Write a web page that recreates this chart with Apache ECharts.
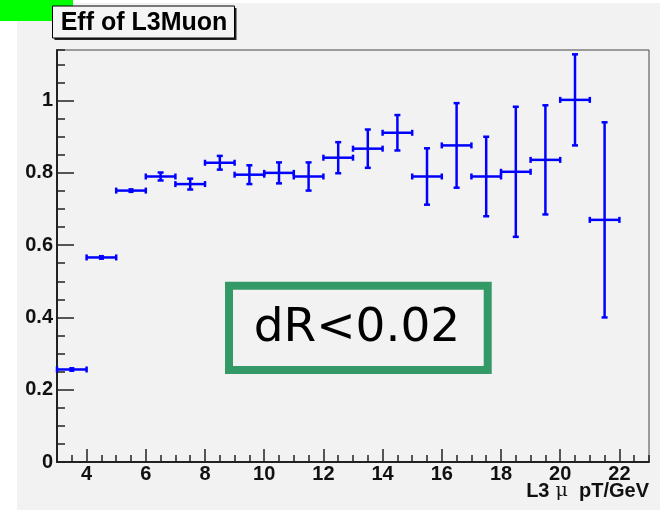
<!DOCTYPE html>
<html>
<head>
<meta charset="utf-8">
<title>Eff of L3Muon</title>
<script src="https://cdn.jsdelivr.net/npm/echarts@6/dist/echarts.min.js"></script>
<style>
    html, body { margin: 0; padding: 0; background: #ffffff; }
    #main { width: 660px; height: 510px; }
</style>
</head>
<body>
<div id="main"></div>
<script>
// bin centres (L3 mu pT, GeV) and half bin widths
var bin_center = [3.5, 4.5, 5.5, 6.5, 7.5, 8.5, 9.5, 10.5, 11.5, 12.5, 13.5, 14.5, 15.5, 16.5, 17.5, 18.5, 19.5, 20.5, 21.5];
var bin_half = [0.5, 0.5, 0.5, 0.5, 0.5, 0.5, 0.5, 0.5, 0.5, 0.5, 0.5, 0.5, 0.5, 0.5, 0.5, 0.5, 0.5, 0.5, 0.5];

// efficiency and its error
var eff_value = [0.256, 0.566, 0.751, 0.790, 0.769, 0.828, 0.795, 0.800, 0.790, 0.842, 0.867, 0.911, 0.790, 0.876, 0.790, 0.803, 0.836, 1.002, 0.670];
var eff_error = [0.003, 0.006, 0.006, 0.011, 0.015, 0.019, 0.026, 0.029, 0.039, 0.043, 0.053, 0.049, 0.078, 0.117, 0.110, 0.180, 0.151, 0.126, 0.270];

// tick labels
var x_major_ticks = [4, 6, 8, 10, 12, 14, 16, 18, 20, 22];
var y_major_ticks = [0, 0.2, 0.4, 0.6, 0.8, 1];

var Page = {

    chart: null,

    bold_font: 'Liberation Sans',
    axis_color: '#222222',
    bar_color: '#0000ff',

    build_data: function () {
        var rows = [];
        for (var i = 0; i < bin_center.length; i++) {
            rows.push([bin_center[i], eff_value[i], bin_half[i], eff_error[i]]);
        }
        return rows;
    },

    /* 画误差棒: 横向为 bin 宽, 纵向为误差 */
    render_errbar: function (params, api) {
        var x = api.value(0), y = api.value(1), ex = api.value(2), ey = api.value(3);
        var c = api.coord([x, y]);
        var l = api.coord([x - ex, y]);
        var r = api.coord([x + ex, y]);
        var t = api.coord([x, y + ey]);
        var b = api.coord([x, y - ey]);
        var cap = 3;
        var st = { stroke: Page.bar_color, lineWidth: 2.5 };
        var kids = [];
        function seg(x1, y1, x2, y2) {
            kids.push({ type: 'line', shape: { x1: x1, y1: y1, x2: x2, y2: y2 }, style: st });
        }
        seg(l[0], c[1], r[0], c[1]);
        seg(l[0], c[1] - cap, l[0], c[1] + cap);
        seg(r[0], c[1] - cap, r[0], c[1] + cap);
        if (b[1] - c[1] < 3) {
            // error smaller than the marker: only the marker shows
            kids.push({ type: 'rect', shape: { x: c[0] - 2.5, y: c[1] - 2.5, width: 5, height: 5 }, style: { fill: Page.bar_color } });
        } else {
            seg(c[0], t[1], c[0], b[1]);
            seg(c[0] - cap, t[1], c[0] + cap, t[1]);
            seg(c[0] - cap, b[1], c[0] + cap, b[1]);
        }
        return { type: 'group', children: kids };
    },

    init: function () {
        var that = this;
        this.chart = echarts.init(document.getElementById('main'), null, { renderer: 'canvas' });

        var label_style = {
            fontFamily: this.bold_font,
            fontWeight: 'bold',
            fontSize: 20,
            color: '#111111'
        };

        var option = {
            backgroundColor: '#ffffff',
            animation: false,
            grid: {
                left: 57, top: 50, right: 11, bottom: 48,
                show: true,
                backgroundColor: '#f2f2f2',
                borderColor: '#444444',
                borderWidth: 1
            },
            xAxis: [{
                type: 'value',
                min: 3, max: 23,
                position: 'bottom',
                axisLine: { show: true, onZero: false, lineStyle: { color: this.axis_color, width: 2 } },
                axisTick: { show: true, inside: true, length: 13, customValues: x_major_ticks, lineStyle: { color: this.axis_color, width: 1.5 } },
                axisLabel: Object.assign({ customValues: x_major_ticks, margin: 2 }, label_style),
                splitLine: { show: false }
            }, {
                type: 'value',
                min: 3, max: 23, interval: 0.5,
                position: 'bottom',
                axisLine: { show: false },
                axisTick: { show: true, inside: true, length: 7, lineStyle: { color: this.axis_color, width: 1.5 } },
                axisLabel: { show: false },
                splitLine: { show: false }
            }],
            yAxis: [{
                type: 'value',
                min: 0, max: 1.14,
                position: 'left',
                axisLine: { show: true, onZero: false, lineStyle: { color: this.axis_color, width: 2 } },
                axisTick: { show: true, inside: true, length: 17, customValues: y_major_ticks, lineStyle: { color: this.axis_color, width: 1.5 } },
                axisLabel: Object.assign({ customValues: y_major_ticks, margin: 4 }, label_style),
                splitLine: { show: false }
            }, {
                type: 'value',
                min: 0, max: 1.14, interval: 0.05,
                position: 'left',
                axisLine: { show: false },
                axisTick: { show: true, inside: true, length: 8, lineStyle: { color: this.axis_color, width: 1.5 } },
                axisLabel: { show: false },
                splitLine: { show: false }
            }],
            graphic: [
                // canvas
                { type: 'rect', z: -10, shape: { x: 17, y: 3, width: 643, height: 507 }, style: { fill: '#f2f2f2' } },
                { type: 'rect', z: 50, shape: { x: 0, y: 0, width: 73, height: 21 }, style: { fill: '#00ff00' } },
                // title box with shadow
                { type: 'rect', z: 50, shape: { x: 54.5, y: 8, width: 182, height: 32 }, style: { fill: '#222222' } },
                { type: 'rect', z: 51, shape: { x: 52.5, y: 6, width: 182, height: 32 }, style: { fill: '#f4f4f4', stroke: '#000000', lineWidth: 1 } },
                {
                    type: 'text', z: 52, x: 144, y: 23,
                    style: { text: 'Eff of L3Muon', fontFamily: this.bold_font, fontWeight: 'bold', fontSize: 25, fill: '#000000', align: 'center', verticalAlign: 'middle' }
                },
                // axis title
                {
                    type: 'text', z: 52, x: 649, y: 491,
                    style: {
                        text: '{b|L3}{m| μ}{b|  pT/GeV}',
                        align: 'right', verticalAlign: 'middle',
                        rich: {
                            b: { fontFamily: this.bold_font, fontWeight: 'bold', fontSize: 20, fill: '#111111' },
                            m: { fontFamily: 'DejaVu Serif', fontSize: 19, fill: '#111111' }
                        }
                    }
                },
                // dR box
                { type: 'rect', z: 52, shape: { x: 229, y: 285.7, width: 258.7, height: 84.3 }, style: { fill: 'none', stroke: '#339966', lineWidth: 8 } },
                {
                    type: 'text', z: 53, x: 357, y: 329,
                    style: { text: 'dR<0.02', fontFamily: 'DejaVu Sans', fontSize: 47, fill: '#000000', align: 'center', verticalAlign: 'middle' }
                }
            ],
            series: [{
                type: 'custom',
                name: 'eff',
                xAxisIndex: 0,
                yAxisIndex: 0,
                z: 10,
                renderItem: function (params, api) { return that.render_errbar(params, api); },
                encode: { x: 0, y: 1 },
                data: this.build_data()
            }]
        };

        this.chart.setOption(option);
    }
};

Page.init();
</script>
</body>
</html>
